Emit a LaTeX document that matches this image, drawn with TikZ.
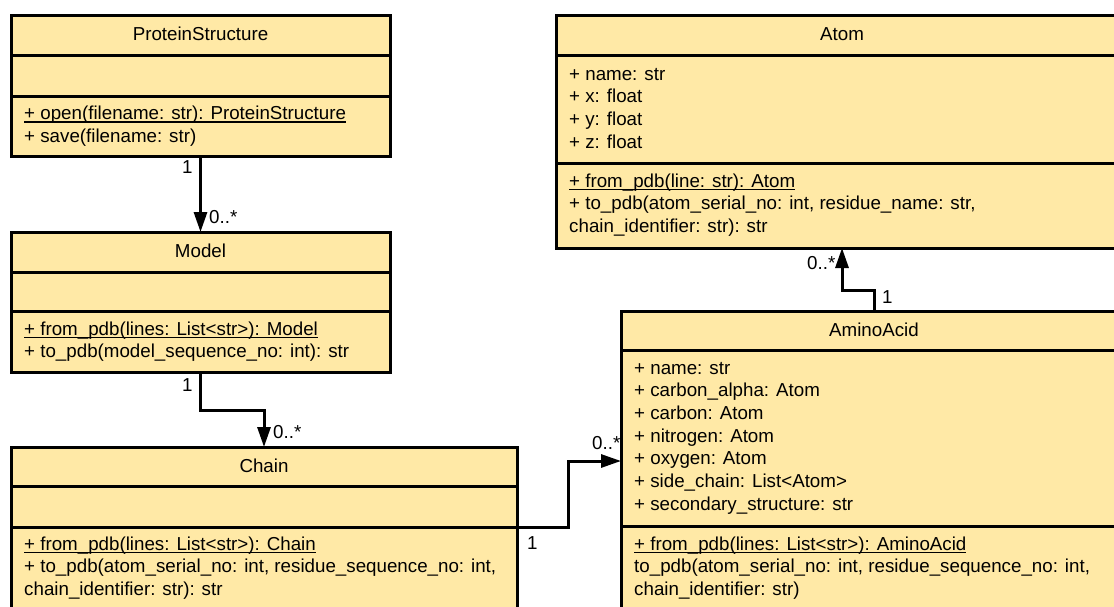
\documentclass[tikz,border=0pt]{standalone}
\usepackage{fontspec}
\setmainfont{Liberation Sans}
\usetikzlibrary{arrows.meta}
\definecolor{classfill}{RGB}{255,233,166}
% underline that sits just under the baseline, like the UML tool's static members
\newcommand\ulin[1]{\setbox0\hbox{#1}\rlap{\rule[-3pt]{\wd0}{1.1pt}}\box0}
\newcommand\lines[1]{\begin{tabular}[t]{@{}l@{}}#1\end{tabular}}

\begin{document}
\begin{tikzpicture}[x=1pt,y=-1pt,
  every node/.style={font=\fontsize{18.75}{22.7}\selectfont, text=black},
  part/.style={draw=black, line width=3pt, fill=classfill, anchor=north west,
               inner sep=0pt, outer sep=0pt},
  title/.style={anchor=center, inner sep=0pt},
  body/.style={anchor=base west, inner sep=0pt},
  lbl/.style={anchor=west, inner sep=0pt},
  conn/.style={line width=3pt, -{Triangle[length=20pt,width=13pt]}}]

\useasboundingbox (0,0) rectangle (1114,606);
\fill[white] (0,0) rectangle (1114,606);
\clip (0,0) rectangle (1114,606);

% ProteinStructure
\node[part, minimum width=379pt, minimum height=40pt] (ps-h) at (11,15) {};
\node[part, minimum width=379pt, minimum height=41pt] (ps-a) at (11,55) {};
\node[part, minimum width=379pt, minimum height=60pt] (ps-m) at (11,96) {};
\node[title] (ps-n) at ([yshift=1pt]ps-h.center) {ProteinStructure};
\node[body] (ps-t) at (24,119.5) {\lines{\ulin{+ open(filename: str): ProteinStructure}\\+ save(filename: str)}};

% Model
\node[part, minimum width=379pt, minimum height=40pt] (mo-h) at (11,232) {};
\node[part, minimum width=379pt, minimum height=39pt] (mo-a) at (11,272) {};
\node[part, minimum width=379pt, minimum height=61pt] (mo-m) at (11,311) {};
\node[title] (mo-n) at ([yshift=1pt]mo-h.center) {Model};
\node[body] (mo-t) at (24,335) {\lines{\ulin{+ from\_pdb(lines: List<str>): Model}\\+ to\_pdb(model\_sequence\_no: int): str}};

% Chain
\node[part, minimum width=506pt, minimum height=39pt] (ch-h) at (11,447) {};
\node[part, minimum width=506pt, minimum height=41pt] (ch-a) at (11,486) {};
\node[part, minimum width=506pt, minimum height=100pt] (ch-m) at (11,527) {};
\node[title] (ch-n) at ([yshift=1pt]ch-h.center) {Chain};
\node[body] (ch-t) at (24,550) {\lines{\ulin{+ from\_pdb(lines: List<str>): Chain}\\+ to\_pdb(atom\_serial\_no: int, residue\_sequence\_no: int,\\chain\_identifier: str): str}};

% Atom
\node[part, minimum width=572pt, minimum height=40pt] (at-h) at (556,15) {};
\node[part, minimum width=572pt, minimum height=108pt] (at-a) at (556,55) {};
\node[part, minimum width=572pt, minimum height=85pt] (at-m) at (556,163) {};
\node[title] (at-n) at ([yshift=1pt]at-h.center) {Atom};
\node[body] (at-f) at (569,80) {\lines{+ name: str\\+ x: float\\+ y: float\\+ z: float}};
\node[body] (at-t) at (569,187) {\lines{\ulin{+ from\_pdb(line: str): Atom}\\+ to\_pdb(atom\_serial\_no: int, residue\_name: str,\\chain\_identifier: str): str}};

% AminoAcid
\node[part, minimum width=506pt, minimum height=39pt] (aa-h) at (621,311) {};
\node[part, minimum width=506pt, minimum height=176pt] (aa-a) at (621,350) {};
\node[part, minimum width=506pt, minimum height=100pt] (aa-m) at (621,526) {};
\node[title] (aa-n) at ([yshift=1pt]aa-h.center) {AminoAcid};
\node[body] (aa-f) at (634,374) {\lines{+ name: str\\+ carbon\_alpha: Atom\\+ carbon: Atom\\+ nitrogen: Atom\\+ oxygen: Atom\\+ side\_chain: List<Atom>\\+ secondary\_structure: str}};
\node[body] (aa-t) at (634,550) {\lines{\ulin{+ from\_pdb(lines: List<str>): AminoAcid}\\to\_pdb(atom\_serial\_no: int, residue\_sequence\_no: int,\\chain\_identifier: str)}};

% associations
\coordinate (aa-in) at ([yshift=-111pt]aa-a.north west);
\draw[conn] (ps-m.south) -- (mo-h.north);
\draw[conn] (mo-m.south) -- ++(0,38) -| (ch-h.north);
\draw[conn] (ch-m.north east) -- ++(51,0) |- (aa-in);
\draw[conn] (aa-h.north) -- ++(0,-21) -| (at-m.south);

% multiplicities
\node[lbl] (m1a) at (182,167) {1};
\node[lbl] (m1b) at (209,217) {0..*};
\node[lbl] (m2a) at (182,385) {1};
\node[lbl] (m2b) at (273,432) {0..*};
\node[lbl] (m3a) at (527,543) {1};
\node[lbl] (m3b) at (592,443) {0..*};
\node[lbl] (m4a) at (882,297) {1};
\node[lbl] (m4b) at (807,263) {0..*};
\end{tikzpicture}
\end{document}
